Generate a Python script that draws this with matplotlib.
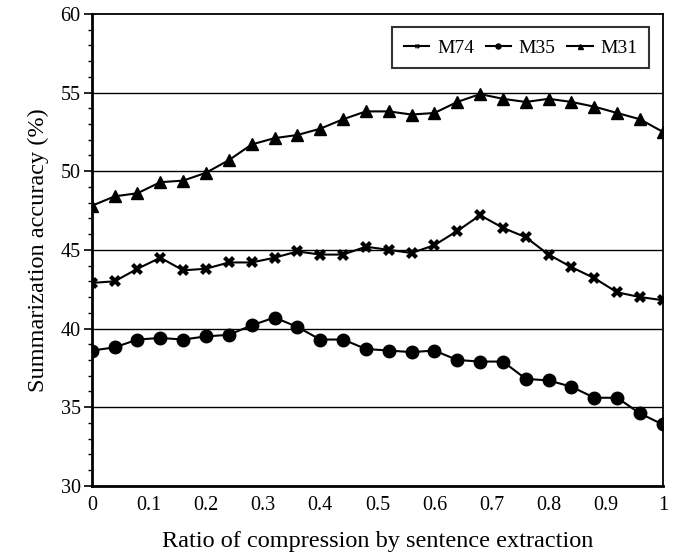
import matplotlib
matplotlib.use("Agg")
import matplotlib.pyplot as plt
from matplotlib.ticker import MultipleLocator
import numpy as np

plt.rcParams['font.family'] = ['Liberation Serif', 'DejaVu Serif']

# compression ratio (x) and accuracy per method
ratio = [0.00, 0.04, 0.08, 0.12, 0.16, 0.20, 0.24, 0.28, 0.32, 0.36, 0.40, 0.44, 0.48,
         0.52, 0.56, 0.60, 0.64, 0.68, 0.72, 0.76, 0.80, 0.84, 0.88, 0.92, 0.96, 1.00]
m74 = [42.9, 43.0, 43.8, 44.5, 43.7, 43.8, 44.2, 44.2, 44.5, 44.9, 44.7, 44.7, 45.2,
       45.0, 44.8, 45.3, 46.2, 47.2, 46.4, 45.8, 44.7, 43.9, 43.2, 42.3, 42.0, 41.8]
m35 = [38.6, 38.8, 39.3, 39.4, 39.3, 39.5, 39.6, 40.2, 40.7, 40.1, 39.3, 39.3, 38.7,
       38.6, 38.5, 38.6, 38.0, 37.9, 37.9, 36.8, 36.7, 36.3, 35.6, 35.6, 34.6, 33.9]
m31 = [47.8, 48.4, 48.6, 49.3, 49.4, 49.9, 50.7, 51.7, 52.1, 52.3, 52.7, 53.3, 53.8,
       53.8, 53.6, 53.7, 54.4, 54.9, 54.6, 54.4, 54.6, 54.4, 54.1, 53.7, 53.3, 52.5]
xticks = [0, 0.1, 0.2, 0.3, 0.4, 0.5, 0.6, 0.7, 0.8, 0.9, 1]
xticklabels = ['0', '0.1', '0.2', '0.3', '0.4', '0.5', '0.6', '0.7', '0.8', '0.9', '1']

fig = plt.figure(figsize=(6.75, 5.54), dpi=100)
ax = fig.add_axes([0.136, 0.123, 0.846, 0.852])

for yv in [35, 40, 45, 50, 55]:
    ax.axhline(yv, color='black', lw=1.0, zorder=1)

ax.plot(ratio, m74, color='black', lw=1.5, marker='X', ms=9, mew=0, label='M74', zorder=3)
ax.plot(ratio, m35, color='black', lw=1.5, marker='o', ms=9, label='M35', zorder=3)
ax.plot(ratio, m31, color='black', lw=1.5, marker='^', ms=9, label='M31', zorder=3)

ax.set_xlim(0, 1)
ax.set_ylim(30, 60)
ax.set_xticks(xticks)
ax.set_xticklabels(xticklabels)
ax.yaxis.set_major_locator(MultipleLocator(5))
ax.yaxis.set_minor_locator(MultipleLocator(1))
ax.tick_params(axis='x', length=0, pad=7, labelsize=14.5)
ax.tick_params(axis='y', which='major', length=6, width=1.2, direction='out', labelsize=14.5, pad=2)
ax.tick_params(axis='y', which='minor', length=3, width=1.0, direction='out')
for s in ax.spines.values():
    s.set_linewidth(1.3)
ax.spines['left'].set_linewidth(2.0)
ax.spines['bottom'].set_linewidth(2.0)

ax.set_xlabel('Ratio of compression by sentence extraction', fontsize=17.5, labelpad=12)
ax.set_ylabel('Summarization accuracy (%)', fontsize=17.5, labelpad=8)

leg = ax.legend(loc='upper right', ncol=3, fontsize=14, markerscale=0.4,
                handlelength=1.3, handletextpad=0.4, columnspacing=0.6,
                frameon=True, fancybox=False, borderaxespad=0.7, borderpad=0.6)
leg.get_frame().set_edgecolor('black')
leg.get_frame().set_linewidth(1.5)

fig.savefig('out.png', dpi=100)
